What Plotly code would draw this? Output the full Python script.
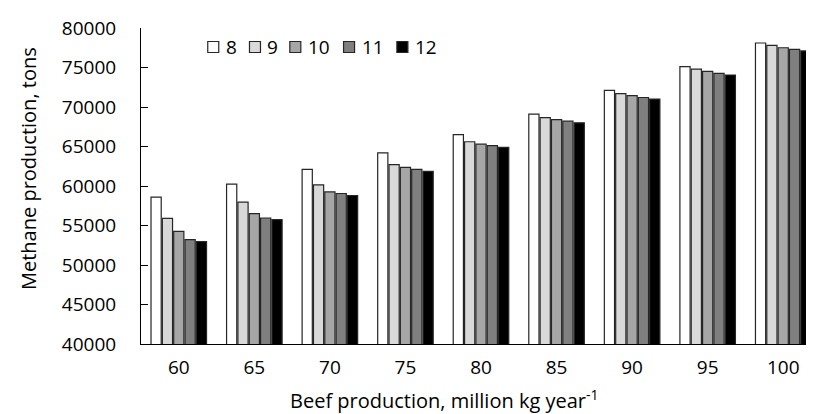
import plotly.graph_objects as go

# ---- data ----
categories = ["60", "65", "70", "75", "80", "85", "90", "95", "100"]
series_names = ["8", "9", "10", "11", "12"]
s8 = [58600, 60250, 62100, 64200, 66500, 69100, 72100, 75100, 78100]
s9 = [55900, 57950, 60150, 62700, 65600, 68650, 71700, 74800, 77800]
s10 = [54250, 56500, 59250, 62350, 65300, 68400, 71450, 74500, 77500]
s11 = [53200, 55950, 59050, 62100, 65100, 68200, 71200, 74250, 77300]
s12 = [52950, 55750, 58800, 61850, 64900, 68000, 71000, 74050, 77100]
series_values = [s8, s9, s10, s11, s12]
y_ticks = [40000, 45000, 50000, 55000, 60000, 65000, 70000, 75000, 80000]

# ---- style ----
colors = ["#ffffff", "#d9d9d9", "#a6a6a6", "#7f7f7f", "#000000"]
FONT = "Open Sans"
W, H = 814, 414
ML, MR, MT, MB = 133.3, 1.2, 19.5, 78.3
PW, PH = W - ML - MR, H - MT - MB


def px(x):
    return (x - ML) / PW


def py(y):
    return (H - MB - y) / PH


fig = go.Figure()
for name, vals, col in zip(series_names, series_values, colors):
    fig.add_trace(go.Bar(
        x=categories, y=vals, name=name,
        marker=dict(color=col, line=dict(color="#262626", width=1.2)),
        showlegend=False,
    ))

# custom legend (layout only)
legend_sq_x = [200, 241.7, 282, 335.7, 389]
for i, (name, col) in enumerate(zip(series_names, colors)):
    x0 = legend_sq_x[i]
    fig.add_shape(type="rect", xref="paper", yref="paper",
                  x0=px(x0), x1=px(x0 + 11), y0=py(44), y1=py(33),
                  fillcolor=col, line=dict(color="#262626", width=1.2))
    fig.add_annotation(xref="paper", yref="paper", x=px(x0 + 16), y=py(38.5),
                       text=name, showarrow=False, xanchor="left", yanchor="middle",
                       font=dict(family=FONT, size=19, color="#000000"))

# axis titles
fig.add_annotation(xref="paper", yref="paper", x=px(437), y=py(391),
                   text="Beef production, million kg year<sup>-1</sup>",
                   showarrow=False, xanchor="center", yanchor="middle",
                   font=dict(family=FONT, size=20, color="#000000"))
fig.add_annotation(xref="paper", yref="paper", x=px(21), y=py(160),
                   text="Methane production, tons", textangle=-90,
                   showarrow=False, xanchor="center", yanchor="middle",
                   font=dict(family=FONT, size=20, color="#000000"))

fig.update_layout(
    width=W, height=H,
    margin=dict(l=ML, r=MR, t=MT, b=MB, pad=0),
    paper_bgcolor="white", plot_bgcolor="white",
    barmode="group", bargap=0.25, bargroupgap=0.1,
    font=dict(family=FONT, size=19, color="#000000"),
    xaxis=dict(type="category", showline=True, linecolor="#000000", linewidth=1,
               ticks="", showgrid=False, tickfont=dict(size=19), ticklabelstandoff=6),
    yaxis=dict(range=[40000, 80000], tickvals=y_ticks, tickformat="d",
               showline=True, linecolor="#000000", linewidth=1,
               ticks="inside", ticklen=7, tickcolor="#000000",
               showgrid=False, zeroline=False,
               tickfont=dict(size=19), ticklabelstandoff=20),
)

fig.write_html("out.html")
